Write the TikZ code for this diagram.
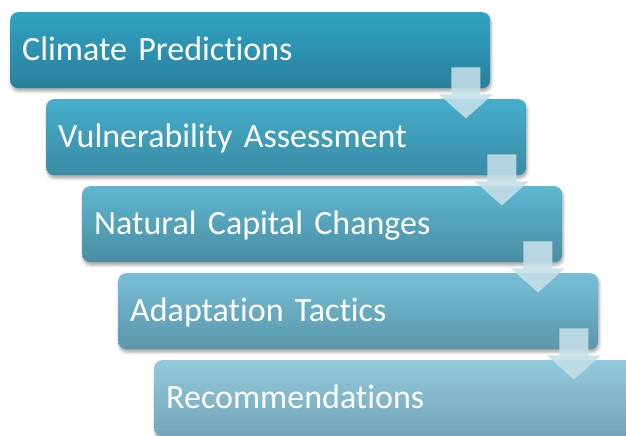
\documentclass[tikz,border=0pt]{standalone}
\usepackage{fontspec}
\setmainfont{Carlito}[RawFeature=-liga, RawFeature=-clig, RawFeature=-calt, RawFeature=-dlig]
\usetikzlibrary{calc,shadows.blur}

% step colours, top and bottom of each gradient
\definecolor{topA}{HTML}{2FA3C2}\definecolor{botA}{HTML}{2A7F9B}
\definecolor{topB}{HTML}{45ADCB}\definecolor{botB}{HTML}{3A8BA4}
\definecolor{topC}{HTML}{5EB7D0}\definecolor{botC}{HTML}{4A8DA3}
\definecolor{topD}{HTML}{77BFD6}\definecolor{botD}{HTML}{5A97AB}
\definecolor{topE}{HTML}{92CADD}\definecolor{botE}{HTML}{74A5B6}
\definecolor{arrowfill}{HTML}{C5DFE8}

\tikzset{
  stepbox/.style 2 args={
    rounded corners=8pt, minimum width=480pt, minimum height=76pt,
    anchor=north west, inner xsep=12pt, inner ysep=0pt,
    text width=456pt,
    text height=26pt, text depth=6pt,
    text=white, font=\fontsize{34}{34}\selectfont,
    top color=#1, bottom color=#2,
    blur shadow={shadow xshift=1pt, shadow yshift=-3pt,
                 shadow blur radius=3pt, shadow opacity=35}},
  flowarrow/.style={fill=arrowfill, fill opacity=0.88}
}

\begin{document}
\begin{tikzpicture}[x=1pt,y=-1pt]
  \useasboundingbox (0,0) rectangle (626,436);
  \clip (0,0) rectangle (626,436);

  \node[stepbox={topA}{botA}] (b1) at (10,12)  {Climate Predictions};
  \node[stepbox={topB}{botB}] (b2) at (46,99)  {Vulnerability Assessment};
  \node[stepbox={topC}{botC}] (b3) at (82,186) {Natural Capital Changes};
  \node[stepbox={topD}{botD}] (b4) at (118,273) {Adaptation Tactics};
  \node[stepbox={topE}{botE}] (b5) at (154,360) {Recommendations};

  % block arrows leading from each step down to the next
  \foreach \a in {b1,b2,b3,b4} {
    \fill[flowarrow]
      ($(\a.south east)+(-39,-21)$) -- ($(\a.south east)+(-10,-21)$)
      -- ($(\a.south east)+(-10,6)$) -- ($(\a.south east)+(2.5,6)$)
      -- ($(\a.south east)+(-24.5,30)$) -- ($(\a.south east)+(-51.5,6)$)
      -- ($(\a.south east)+(-39,6)$) -- cycle;
  }
\end{tikzpicture}
\end{document}
